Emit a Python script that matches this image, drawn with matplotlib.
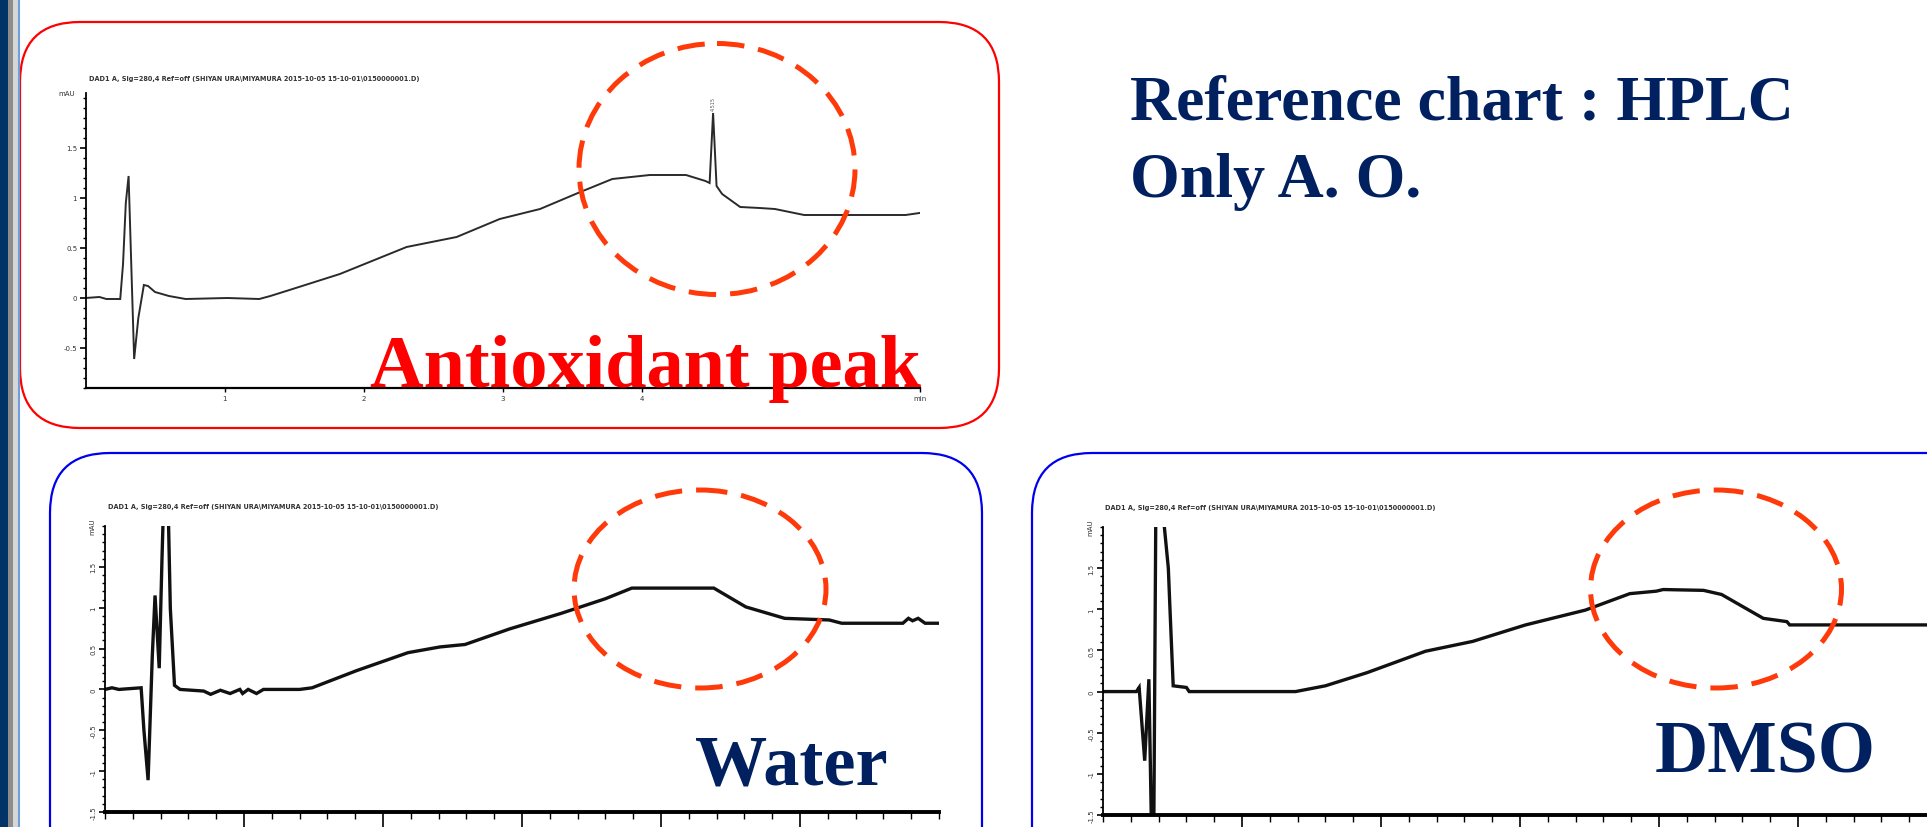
import matplotlib as mpl
mpl.use('Agg')
import matplotlib.pyplot as plt
from matplotlib.patches import FancyBboxPatch, Ellipse, Rectangle
from matplotlib.ticker import MultipleLocator

# chromatogram traces (time in min, signal in mAU)
ao_time = [0.00, 0.10, 0.15, 0.25, 0.27, 0.29, 0.31, 0.33, 0.35, 0.38, 0.42, 0.45,
           0.50, 0.60, 0.72, 1.02, 1.25, 1.33, 1.49, 1.83, 2.31, 2.67, 2.98, 3.27,
           3.56, 3.79, 4.06, 4.32, 4.46, 4.49, 4.515, 4.54, 4.58, 4.71, 4.85, 4.96,
           5.17, 5.90, 6.00]
ao_value = [0.00, 0.01, -0.01, -0.01, 0.34, 0.95, 1.22, 0.30, -0.61, -0.20, 0.13, 0.12,
            0.06, 0.02, -0.01, 0.00, -0.01, 0.02, 0.09, 0.24, 0.51, 0.61, 0.79, 0.89,
            1.06, 1.19, 1.23, 1.23, 1.17, 1.15, 1.85, 1.12, 1.04, 0.91, 0.90, 0.89,
            0.83, 0.83, 0.85]

water_time = [0.00, 0.05, 0.10, 0.26, 0.28, 0.31, 0.34, 0.36, 0.39, 0.41, 0.42, 0.455,
              0.47, 0.50, 0.54, 0.71, 0.76, 0.83, 0.90, 0.97, 0.99, 1.03, 1.09, 1.14,
              1.40, 1.49, 1.81, 2.18, 2.41, 2.59, 2.91, 3.28, 3.60, 3.79, 4.38, 4.61,
              4.89, 5.21, 5.30, 5.74, 5.78, 5.81, 5.85, 5.90, 6.00]
water_value = [0.00, 0.02, 0.00, 0.02, -0.50, -1.11, 0.40, 1.15, 0.26, 1.60, 2.20, 2.20,
               0.99, 0.05, 0.00, -0.02, -0.06, -0.01, -0.05, 0.00, -0.05, 0.00, -0.05, 0.00,
               0.00, 0.02, 0.23, 0.45, 0.52, 0.55, 0.74, 0.93, 1.11, 1.24, 1.24, 1.01,
               0.87, 0.85, 0.81, 0.81, 0.87, 0.84, 0.87, 0.81, 0.81]

dmso_time = [0.00, 0.24, 0.26, 0.30, 0.33, 0.35, 0.365, 0.38, 0.43, 0.47, 0.48, 0.505,
             0.60, 0.62, 1.385, 1.60, 1.90, 2.32, 2.66, 3.04, 3.47, 3.79, 3.98, 4.03,
             4.32, 4.45, 4.75, 4.92, 4.94, 6.00]
dmso_value = [0.00, 0.00, 0.05, -0.84, 0.15, -1.80, -1.80, 2.20, 2.20, 1.50, 1.08, 0.07,
              0.05, 0.00, 0.00, 0.07, 0.23, 0.49, 0.61, 0.81, 0.99, 1.19, 1.22, 1.24,
              1.23, 1.18, 0.89, 0.85, 0.81, 0.81]

header = 'DAD1 A, Sig=280,4 Ref=off (SHIYAN URA\\MIYAMURA 2015-10-05 15-10-01\\0150000001.D)'
navy = '#002060'
dash_red = '#FF3A0A'
W, H = 1927, 828

fig = plt.figure(figsize=(W / 100, H / 100), dpi=100)
fig.patch.set_facecolor('white')


def chromatogram(rect, t, v, ylim, lw, line_color, bottom_lw, rotate_labels, big_xticks):
    ax = fig.add_axes(rect)
    ax.patch.set_alpha(0)
    ax.plot(t, v, color=line_color, lw=lw, solid_joinstyle='miter', clip_on=True)
    ax.set_xlim(0, 6)
    ax.set_ylim(*ylim)
    for s in ['top', 'right']:
        ax.spines[s].set_visible(False)
    ax.spines['left'].set_linewidth(1.3)
    ax.spines['bottom'].set_linewidth(bottom_lw)
    ax.yaxis.set_major_locator(MultipleLocator(0.5))
    ax.yaxis.set_minor_locator(MultipleLocator(0.1))
    yt = [y for y in [-1.5, -1.0, -0.5, 0, 0.5, 1.0, 1.5] if ylim[0] <= y <= 1.5]
    ax.set_yticks(yt)
    ax.set_yticklabels(['%g' % y for y in yt], fontsize=5, color='#333333',
                       rotation=90 if rotate_labels else 0, va='center')
    ax.tick_params(axis='y', which='major', length=4, width=1.2, pad=2)
    ax.tick_params(axis='y', which='minor', length=2, width=1.0)
    if big_xticks:
        ax.set_xticks([1, 2, 3, 4, 5])
        ax.xaxis.set_minor_locator(MultipleLocator(0.2))
        ax.tick_params(axis='x', which='major', length=11, width=1.2, labelbottom=False)
        ax.tick_params(axis='x', which='minor', length=5, width=1.0)
    else:
        ax.set_xticks([1, 2, 3, 4, 5, 6])
        ax.set_xticklabels(['1', '2', '3', '4', '5', 'min'], fontsize=5, color='#333333')
        ax.tick_params(axis='x', which='major', length=3, width=1.0, pad=2)
    ax.text(-0.012, ylim[1], 'mAU', transform=ax.get_yaxis_transform(), fontsize=5,
            ha='right', va='center', color='#333333',
            rotation=90 if rotate_labels else 0)
    return ax


ax_ao = chromatogram([85.5 / W, (H - 389) / H, 834 / W, 295 / H], ao_time, ao_value,
                     (-0.9, 2.05), 1.4, '#2a2a2a', 1.6, False, False)
ax_ao.text(4.515, 1.88, '4.515', fontsize=3.5, rotation=90, ha='center', va='bottom',
           color='#555555')
chromatogram([105 / W, (H - 813) / H, 834 / W, 286 / H], water_time, water_value,
             (-1.5, 2.0), 2.4, '#111111', 2.8, True, True)
chromatogram([1103 / W, (H - 816) / H, 834 / W, 288 / H], dmso_time, dmso_value,
             (-1.5, 2.0), 2.4, '#111111', 2.8, True, True)

# overlay in pixel coordinates for the slide decorations
ov = fig.add_axes([0, 0, 1, 1])
ov.patch.set_alpha(0)
ov.set_xlim(0, W)
ov.set_ylim(H, 0)
ov.axis('off')

ov.add_patch(Rectangle((0, 0), 8, H, color='#003366', lw=0))
ov.add_patch(Rectangle((8, 0), 5, H, color='#8c8c8c', lw=0))
ov.add_patch(Rectangle((13, 0), 5, H, color='#d6d6d6', lw=0))
ov.plot([19, 19], [0, H], color='#6f9fd8', lw=1.5)

ov.add_patch(FancyBboxPatch((20, 23), 979, 406, boxstyle='round,pad=0,rounding_size=60',
                            fill=False, ec='#FF0000', lw=1.6))
ov.add_patch(FancyBboxPatch((50, 454), 932, 480, boxstyle='round,pad=0,rounding_size=60',
                            fill=False, ec='#0000EE', lw=1.6))
ov.add_patch(FancyBboxPatch((1032, 454), 1000, 480, boxstyle='round,pad=0,rounding_size=60',
                            fill=False, ec='#0000EE', lw=1.6))

for (cx, cy, ew, eh) in [(717, 170, 276, 251), (700, 590, 252, 198), (1716, 590, 251, 198)]:
    ov.add_patch(Ellipse((cx, cy), ew, eh, fill=False, ec=dash_red, lw=3.6,
                         linestyle=(0, (5.5, 2.8))))

for (x, y) in [(89, 79), (108, 507), (1105, 508)]:
    ov.text(x, y, header, fontsize=5.2, fontweight='bold', color='#333333',
            ha='left', va='center', fontstretch='condensed')

serif = ['Liberation Serif', 'DejaVu Serif']
ov.text(1130, 119, 'Reference chart : HPLC', family=serif, fontweight='bold',
        fontsize=46, color=navy, va='baseline', ha='left')
ov.text(1130, 197, 'Only A. O.', family=serif, fontweight='bold',
        fontsize=46, color=navy, va='baseline', ha='left')
ov.text(370, 387, 'Antioxidant peak', family=serif, fontweight='bold',
        fontsize=53.5, color='#FF0000', va='baseline', ha='left')
ov.text(695, 785, 'Water', family=serif, fontweight='bold',
        fontsize=52, color=navy, va='baseline', ha='left')
ov.text(1655, 773, 'DMSO', family=serif, fontweight='bold',
        fontsize=53, color=navy, va='baseline', ha='left')

fig.savefig('out.png', dpi=100)
